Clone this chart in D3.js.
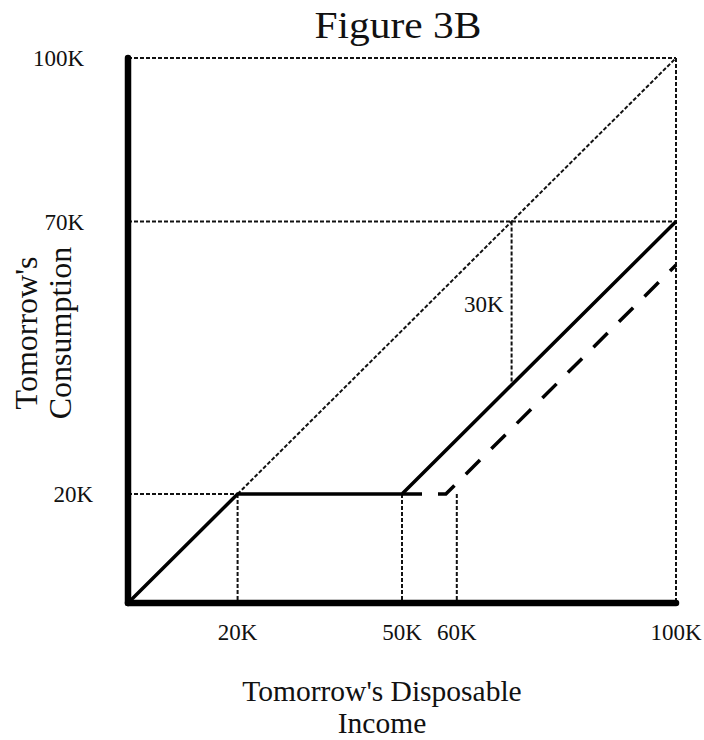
<!DOCTYPE html>
<html>
<head>
<meta charset="utf-8">
<script src="https://cdn.jsdelivr.net/npm/d3@7"></script>
<style>
  body { margin: 0; background: #fff; }
  svg { display: block; }
  text { font-family: "Liberation Serif", "Times New Roman", serif; fill: #111; }
</style>
</head>
<body>
<svg id="chart" width="704" height="740"></svg>
<script>
// ---- data ----
const titleText = "Figure 3B";
const xTitleLines = ["Tomorrow's Disposable", "Income"];
const yTitleLines = ["Tomorrow's", "Consumption"];
const xTicks = [20, 50, 60, 100];
const yTicks = [20, 70, 100];
const tickLabel = v => v + "K";
// consumption path, solid (current) and dashed (shifted)
const solidLine = [[0, 0], [20, 20], [50, 20], [100, 70]];
const dashedLine = [[50, 20], [58, 20], [100, 62]];
// dotted guide segments
const guides = [
  [[0, 100], [100, 100]],
  [[100, 100], [100, 0]],
  [[20, 20], [100, 100]],
  [[0, 70], [100, 70]],
  [[0, 20], [20, 20]],
  [[20, 20], [20, 0]],
  [[50, 20], [50, 0]],
  [[60, 20], [60, 0]],
  [[70, 70], [70, 40]]
];
const gapLabel = { text: "30K", x: 70, y0: 70, y1: 40 };

// ---- layout ----
const svg = d3.select("#chart");
const x = d3.scaleLinear().domain([0, 100]).range([128, 676]);
const y = d3.scaleLinear().domain([0, 100]).range([603, 58]);
const line = d3.line().x(d => x(d[0])).y(d => y(d[1]));

// title
svg.append("text")
  .attr("x", 398).attr("y", 38)
  .attr("text-anchor", "middle")
  .attr("font-size", 38)
  .attr("textLength", 167)
  .attr("lengthAdjust", "spacingAndGlyphs")
  .text(titleText);

// guides
svg.append("g").selectAll("path").data(guides).join("path")
  .attr("d", line)
  .attr("fill", "none")
  .attr("stroke", "#111")
  .attr("stroke-width", 2)
  .attr("stroke-dasharray", "4,2");

// solid and dashed lines
svg.append("path").datum(solidLine)
  .attr("d", line).attr("fill", "none")
  .attr("stroke", "#000").attr("stroke-width", 3.5)
  .attr("stroke-linejoin", "miter");
svg.append("path").datum(dashedLine)
  .attr("d", line).attr("fill", "none")
  .attr("stroke", "#000").attr("stroke-width", 3.5)
  .attr("stroke-dasharray", "20,16");

// axes (bold lines)
svg.append("line")
  .attr("x1", x(0)).attr("y1", y(0)).attr("x2", x(0)).attr("y2", y(100))
  .attr("stroke", "#000").attr("stroke-width", 6.5).attr("stroke-linecap", "round");
svg.append("line")
  .attr("x1", x(0)).attr("y1", y(0)).attr("x2", x(100)).attr("y2", y(0))
  .attr("stroke", "#000").attr("stroke-width", 6.5).attr("stroke-linecap", "round");

// tick labels
const yLabelDx = { 20: 9, 70: 0, 100: 0 };
svg.append("g").selectAll("text").data(yTicks).join("text")
  .attr("x", d => 84 + (yLabelDx[d] || 0))
  .attr("y", d => y(d))
  .attr("dy", "0.36em")
  .attr("text-anchor", "end")
  .attr("font-size", 23)
  .text(tickLabel);
svg.append("g").selectAll("text").data(xTicks).join("text")
  .attr("x", d => x(d))
  .attr("y", 640)
  .attr("text-anchor", "middle")
  .attr("font-size", 23)
  .text(tickLabel);

// gap annotation
svg.append("text")
  .attr("x", x(gapLabel.x) - 8)
  .attr("y", y((gapLabel.y0 + gapLabel.y1) / 2))
  .attr("dy", "0.36em")
  .attr("text-anchor", "end")
  .attr("font-size", 23)
  .text(gapLabel.text);

// axis titles
svg.append("g").selectAll("text").data(xTitleLines).join("text")
  .attr("x", 382)
  .attr("y", (d, i) => 701 + i * 32)
  .attr("text-anchor", "middle")
  .attr("font-size", 29.5)
  .text(d => d);
const yt = svg.append("g").attr("transform", "translate(0,333) rotate(-90)");
yt.selectAll("text").data(yTitleLines).join("text")
  .attr("x", 0)
  .attr("y", (d, i) => 37 + i * 34)
  .attr("text-anchor", "middle")
  .attr("font-size", 32)
  .text(d => d);
</script>
</body>
</html>
